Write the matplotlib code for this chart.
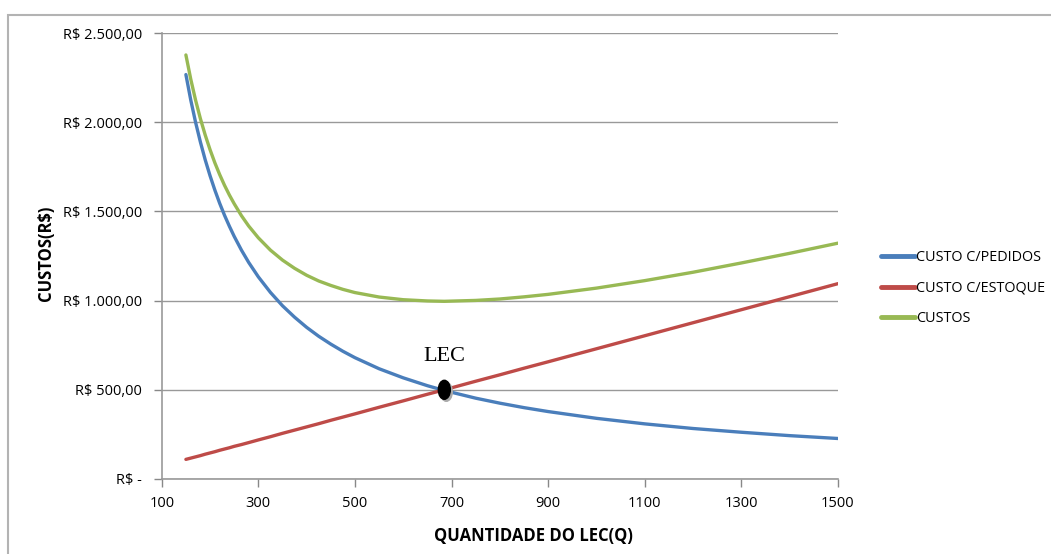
import matplotlib
matplotlib.use("Agg")
import matplotlib.pyplot as plt
from matplotlib.patches import Ellipse, Rectangle

# Data
q = [150, 160, 170, 180, 190, 200, 210, 220, 230, 240, 250, 265, 280, 300, 325, 350, 375,
     400, 425, 450, 475, 500, 550, 600, 650, 685, 750, 800, 850, 900, 1000, 1100, 1200,
     1300, 1400, 1500]
custo_pedidos = [2267, 2125, 2000, 1889, 1789, 1700, 1619, 1545, 1478, 1417, 1360, 1283, 1214,
                 1133, 1046, 971, 907, 850, 800, 756, 716, 680, 618, 567, 523, 496, 453, 425,
                 400, 378, 340, 309, 283, 262, 243, 227]
custo_estoque = [110, 117, 124, 131, 139, 146, 153, 161, 168, 175, 183, 193, 204, 219, 237,
                 256, 274, 292, 310, 329, 347, 365, 402, 438, 475, 500, 548, 584, 621, 657,
                 730, 803, 876, 949, 1022, 1095]
custos = [2377, 2242, 2124, 2020, 1928, 1846, 1772, 1706, 1646, 1592, 1543, 1476, 1418, 1352,
          1283, 1227, 1181, 1142, 1110, 1085, 1063, 1045, 1020, 1005, 998, 996, 1001, 1009,
          1021, 1035, 1070, 1112, 1159, 1211, 1265, 1322]
series_names = ["CUSTO C/PEDIDOS", "CUSTO C/ESTOQUE", "CUSTOS"]
lec_q, lec_val = 685, 500
x_ticks = [100, 300, 500, 700, 900, 1100, 1300, 1500]
y_ticks = [0, 500, 1000, 1500, 2000, 2500]
y_tick_labels = ["R$ -", "R$ 500,00", "R$ 1.000,00", "R$ 1.500,00", "R$ 2.000,00", "R$ 2.500,00"]

plt.rcParams['font.family'] = ['Open Sans', 'DejaVu Sans']

fig = plt.figure(figsize=(10.51, 5.54), dpi=100)
ax = fig.add_axes([0.1539, 0.1354, 0.6434, 0.805])

# outer border
fig.patches.append(Rectangle((8/1051, -0.1), 1.2, 1 - 15/554 + 0.1, transform=fig.transFigure,
                             fill=False, edgecolor='#b3b3b3', linewidth=1.5))

colors = ['#4A7EBB', '#BE4B48', '#98B954']
for ys, c, n in zip([custo_pedidos, custo_estoque, custos], colors, series_names):
    ax.plot(q, ys, color=c, linewidth=2.4, label=n, solid_capstyle='round',
            solid_joinstyle='round', zorder=3)

ax.set_xlim(100, 1500)
ax.set_ylim(0, 2500)
ax.set_xticks(x_ticks)
ax.set_xticklabels([str(v) for v in x_ticks])
ax.set_yticks(y_ticks)
ax.set_yticklabels(y_tick_labels)
ax.tick_params(axis='both', colors='#888888', labelcolor='black', labelsize=10.5, length=6, width=1)
ax.tick_params(axis='y', pad=8)
ax.tick_params(axis='x', pad=6)
ax.grid(axis='y', color='#999999', linewidth=1)
ax.set_axisbelow(True)
for s in ['top', 'right']:
    ax.spines[s].set_visible(False)
for s in ['left', 'bottom']:
    ax.spines[s].set_color('#999999')
    ax.spines[s].set_linewidth(1.2)

# LEC point
sx = 1400 / (0.6434 * 1051)
sy = 2500 / (0.805 * 554)
ax.add_patch(Ellipse((lec_q + 2 * sx, lec_val - 2 * sy), 12 * sx, 19 * sy, color='#aaaaaa', zorder=4))
ax.add_patch(Ellipse((lec_q, lec_val), 12 * sx, 19 * sy, color='black', zorder=5))
ax.text(lec_q, lec_val + 185, "LEC", family=['Liberation Serif'], fontsize=16,
        ha='center', va='center', zorder=6)

ax.set_xlabel("QUANTIDADE DO LEC(Q)", fontweight='bold', fontsize=12)
ax.xaxis.set_label_coords(0.549, -0.108)
ax.set_ylabel("CUSTOS(R$)", fontweight='bold', fontsize=12)
ax.yaxis.set_label_coords(-0.158, 0.505)

leg = ax.legend(loc='center left', bbox_to_anchor=(1.045, 0.428), frameon=False, fontsize=10.4,
                handlelength=2.3, handletextpad=0.1, labelspacing=1.05)
for h in leg.get_lines():
    h.set_linewidth(3.5)

fig.savefig("out.png", dpi=100)
